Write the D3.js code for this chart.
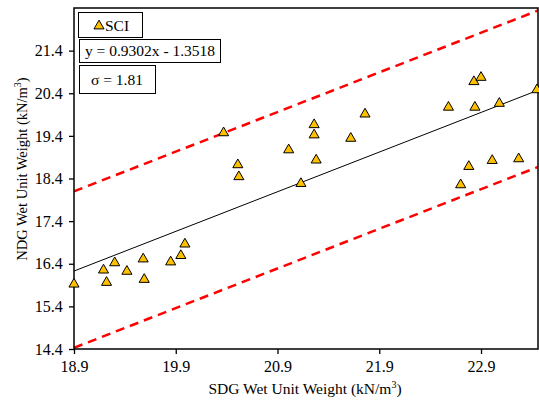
<!DOCTYPE html>
<html><head><meta charset="utf-8">
<script src="https://cdn.jsdelivr.net/npm/d3@7"></script>
<style>body{margin:0;background:#fff}svg{display:block}text{font-family:'Liberation Serif','Times New Roman',serif;fill:#000}</style>
</head><body>
<script>
const sdg = [18.90,19.19,19.22,19.30,19.42,19.58,19.59,19.85,19.95,19.99,
             20.37,20.51,20.52,21.01,21.13,21.26,21.26,21.28,21.62,21.76,
             22.58,22.83,22.90,22.84,23.08,23.45,22.70,22.78,23.01,23.27];
const ndg = [15.94,16.27,15.98,16.44,16.24,16.53,16.05,16.46,16.61,16.88,
             19.49,18.74,18.46,19.09,18.30,19.68,19.44,18.85,19.36,19.93,
             20.09,20.69,20.79,20.09,20.18,20.50,18.27,18.70,18.84,18.88];
const xTicks = [18.9,19.9,20.9,21.9,22.9];
const yTicks = [14.4,15.4,16.4,17.4,18.4,19.4,20.4,21.4];
const xDomain = [18.9,23.46];
const yDomain = [14.4,22.4];
const slope = 0.9302, intercept = -1.3518;
const boundOffsets = [1.87,-1.80];
const seriesName = "SCI";
const eqText = "y = 0.9302x - 1.3518";
const sigmaText = "σ = 1.81";

const W=539,H=402, m={l:74,r:1,t:8,b:53};
const svg=d3.select("body").append("svg").attr("width",W).attr("height",H);
const x=d3.scaleLinear().domain(xDomain).range([m.l,W-m.r]);
const y=d3.scaleLinear().domain(yDomain).range([H-m.b,m.t]);

svg.append("defs").append("clipPath").attr("id","c").append("rect")
  .attr("x",m.l).attr("y",m.t).attr("width",W-m.r-m.l).attr("height",H-m.b-m.t);

const fx=(v,off)=>slope*v+intercept+off;
const g=svg.append("g").attr("clip-path","url(#c)");
boundOffsets.forEach(o=>{
  g.append("line").attr("x1",x(xDomain[0])).attr("x2",x(xDomain[1]))
   .attr("y1",y(fx(xDomain[0],o))).attr("y2",y(fx(xDomain[1],o)))
   .attr("stroke","#ff0000").attr("stroke-width",2.5).attr("stroke-dasharray","9,6");
});
g.append("line").attr("x1",x(xDomain[0])).attr("x2",x(xDomain[1]))
   .attr("y1",y(fx(xDomain[0],0))).attr("y2",y(fx(xDomain[1],0)))
   .attr("stroke","#000").attr("stroke-width",1);

// axes
const xa=svg.append("g").attr("transform",`translate(0,${H-m.b})`)
  .call(d3.axisBottom(x).tickValues(xTicks).tickFormat(d3.format(".1f")).tickSize(5).tickSizeOuter(0));
const ya=svg.append("g").attr("transform",`translate(${m.l},0)`)
  .call(d3.axisLeft(y).tickValues(yTicks).tickFormat(d3.format(".1f")).tickSize(5).tickSizeOuter(0));
[xa,ya].forEach(a=>{a.select(".domain").remove();a.selectAll("line").attr("stroke","#000").attr("stroke-width",1.3);
  a.selectAll("text").style("font-size","16px").style("font-family","'Liberation Serif',serif").attr("fill","#000");});
xa.selectAll("text").attr("dy","0.95em");
ya.selectAll("text").attr("dx","-0.2em");

// frame
svg.append("rect").attr("x",m.l).attr("y",m.t).attr("width",W-m.r-m.l).attr("height",H-m.b-m.t)
  .attr("fill","none").attr("stroke","#000").attr("stroke-width",1.5);

// points
const tri=d3.symbol().type(d3.symbolTriangle).size(44);
svg.append("g").selectAll("path").data(sdg.map((d,i)=>[d,ndg[i]])).join("path")
  .attr("d",tri).attr("transform",d=>`translate(${x(d[0])},${y(d[1])+0.8})`)
  .attr("fill","#FFC000").attr("stroke","#000").attr("stroke-width",1);

// legend boxes
const box=(x0,y0,w,h)=>svg.append("rect").attr("x",x0).attr("y",y0).attr("width",w).attr("height",h)
  .attr("fill","#fff").attr("stroke","#000").attr("stroke-width",1);
box(78.5,12.5,64,25);
svg.append("path").attr("d",tri).attr("transform","translate(99,26)")
  .attr("fill","#FFC000").attr("stroke","#000").attr("stroke-width",1);
svg.append("text").attr("x",105).attr("y",30.5).style("font-size","15.5px").text(seriesName);
box(79.5,39.5,141,23);
svg.append("text").attr("x",150).attr("y",56).attr("text-anchor","middle").style("font-size","15.5px").text(eqText);
box(79.5,65.5,76,28);
svg.append("text").attr("x",117).attr("y",85).attr("text-anchor","middle").style("font-size","15.5px").text(sigmaText);

// axis titles
const xt=svg.append("text").attr("x",305).attr("y",394).attr("text-anchor","middle").style("font-size","15.5px");
xt.append("tspan").text("SDG Wet Unit Weight (kN/m");
xt.append("tspan").text("3").style("font-size","10px").attr("dy","-6");
xt.append("tspan").text(")").attr("dy","6");
const yt=svg.append("text").attr("transform",`translate(27,169) rotate(-90)`).attr("text-anchor","middle").style("font-size","14.5px");
yt.append("tspan").text("NDG Wet Unit Weight (kN/m");
yt.append("tspan").text("3").style("font-size","10px").attr("dy","-6");
yt.append("tspan").text(")").attr("dy","6");
</script>
</body></html>
